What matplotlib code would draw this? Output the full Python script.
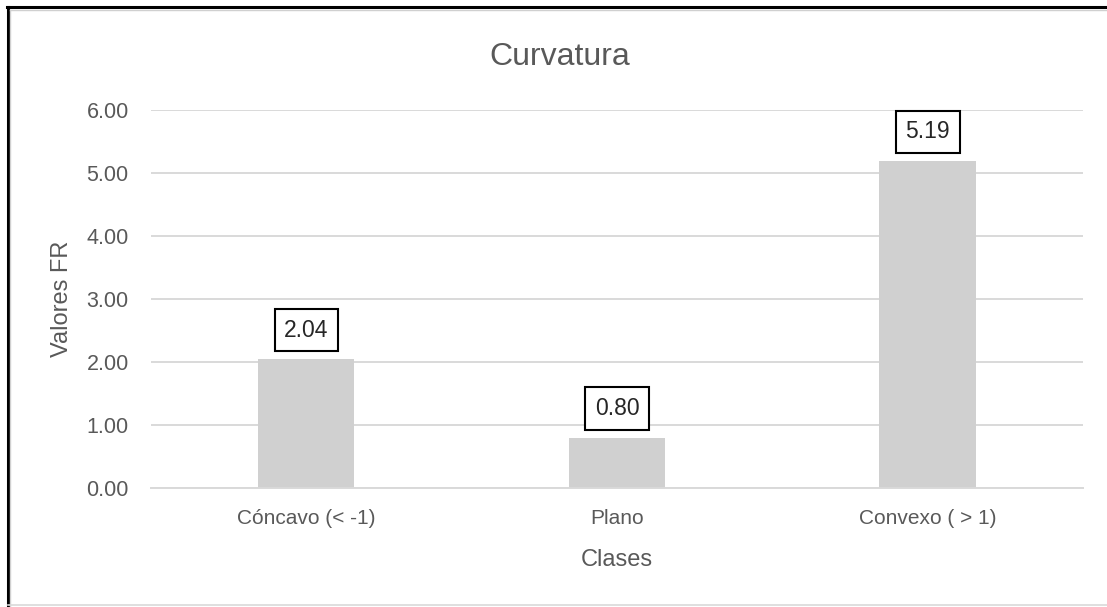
import matplotlib.pyplot as plt
from matplotlib.lines import Line2D

clases = ["Cóncavo (< -1)", "Plano", "Convexo ( > 1)"]
valores_fr = [2.04, 0.80, 5.19]
y_ticks = [0, 1, 2, 3, 4, 5, 6]

text_gray = "#595959"
grid_gray = "#d9d9d9"
bar_gray = "#d0d0d0"

plt.rcParams["font.family"] = ["Liberation Sans", "DejaVu Sans"]

fig = plt.figure(figsize=(11.07, 6.07), dpi=100)
ax = fig.add_axes([0.1364, 0.196, 0.8419, 0.6228])

x = range(len(clases))
bars = ax.bar(x, valores_fr, width=0.31, color=bar_gray, zorder=2)

for rect, value in zip(bars, valores_fr):
    ax.annotate(f"{value:.2f}", (rect.get_x() + rect.get_width() / 2, value),
                xytext=(0, 21), textcoords="offset points", ha="center", va="center",
                fontsize=16.5, color="#262626", zorder=3,
                bbox=dict(boxstyle="square,pad=0.42", fc="white", ec="black", lw=1.5))

ax.set_xlim(-0.5, 2.5)
ax.set_ylim(0, 6)
ax.set_yticks(y_ticks)
ax.set_yticklabels([f"{v:.2f}" for v in y_ticks])
ax.set_xticks(list(x))
ax.set_xticklabels(clases)
ax.tick_params(axis="y", length=0, pad=16, labelsize=15.5, labelcolor=text_gray)
ax.tick_params(axis="x", length=0, pad=15, labelsize=15, labelcolor=text_gray)
ax.grid(axis="y", color=grid_gray, lw=1.4, zorder=0)
for side in ["top", "right", "left"]:
    ax.spines[side].set_visible(False)
ax.spines["bottom"].set_color(grid_gray)
ax.spines["bottom"].set_linewidth(1.4)

fig.text(0.506, 1 - 57 / 607, "Curvatura", fontsize=23, color=text_gray, ha="center", va="center")
ax.set_xlabel("Clases", fontsize=17, color=text_gray, labelpad=15)
ax.set_ylabel("Valores FR", fontsize=17, color=text_gray, labelpad=10)

# borde del recorte
fig.add_artist(Line2D([0.0063, 1], [0.988, 0.988], transform=fig.transFigure, color="black", lw=2.2))
fig.add_artist(Line2D([0.0072, 0.0072], [0, 0.988], transform=fig.transFigure, color="black", lw=2.2))
fig.add_artist(Line2D([0.009, 1], [0.984, 0.984], transform=fig.transFigure, color="#d0d0d0", lw=1))
fig.add_artist(Line2D([0.009, 0.009], [0, 0.984], transform=fig.transFigure, color="#d0d0d0", lw=1))
fig.add_artist(Line2D([0.0072, 1], [0.0035, 0.0035], transform=fig.transFigure, color="#d9d9d9", lw=1.2))

fig.savefig("out.png", dpi=100)
